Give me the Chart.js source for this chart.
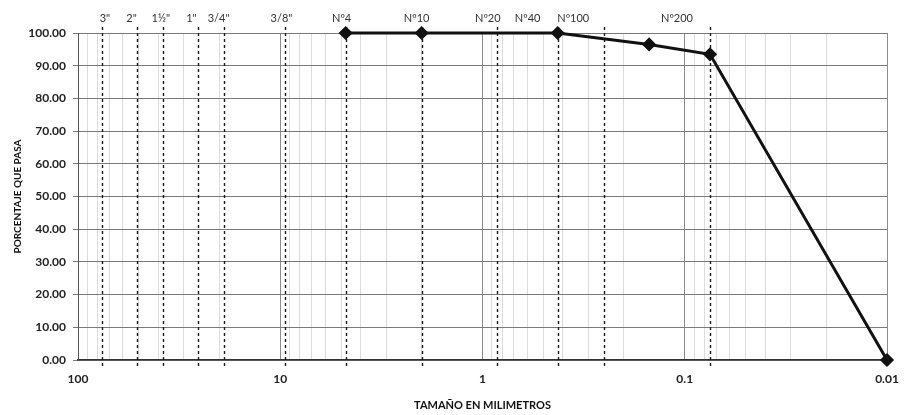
<!DOCTYPE html>
<html>
<head>
<meta charset="utf-8">
<script src="https://cdn.jsdelivr.net/npm/chart.js@4.4.1/dist/chart.umd.min.js"></script>
<style>
  html, body { margin: 0; padding: 0; background: #ffffff; }
  #wrap { width: 904px; height: 415px; position: relative; }
</style>
</head>
<body>
<div id="wrap"><canvas id="curve"></canvas></div>
<script>
// Grain size curve: sieve opening (mm) vs. percent passing
const sieveSizesMm   = [4.75, 2.0, 0.425, 0.15, 0.075, 0.01];
const percentPassing = [100, 100, 100, 96.5, 93.5, 0];

// Reference sieves marked with dashed verticals
const sieveNames      = ['3"', '2"', '1½"', '1"', '3/4"', '3/8"', 'Nº4', 'Nº10', 'Nº20', 'Nº40', 'Nº100', 'Nº200'];
const sieveOpeningsMm = [76.2, 50.8, 38.1, 25.4, 19.05, 9.525, 4.75, 2.0, 0.85, 0.425, 0.25, 0.075];

// Axis ticks
const xDecades = [100, 10, 1, 0.1, 0.01];
const yTicks   = [0, 10, 20, 30, 40, 50, 60, 70, 80, 90, 100];

const FONT = 'Lato, "Liberation Sans", sans-serif';
const decadeSet = new Set(xDecades);

// every 1..9 subdivision of each decade, for the log grid
function logGridValues() {
  const vals = [];
  const lo = Math.min(...xDecades), hi = Math.max(...xDecades);
  for (let d = lo; d < hi * 0.999; d *= 10) {
    for (let m = 1; m <= 9; m++) vals.push(+(m * d).toPrecision(6));
  }
  vals.push(hi);
  return vals;
}

// dashed sieve verticals and their names above the plot
const sievePlugin = {
  id: 'sieveMarks',
  beforeDatasetsDraw(chart, args, opts) {
    const { ctx, chartArea: a, scales: { x } } = chart;
    ctx.save();
    ctx.strokeStyle = '#1a1a1a';
    ctx.lineWidth = 1.4;
    ctx.setLineDash([3, 3]);
    sieveOpeningsMm.forEach(v => {
      const px = Math.round(x.getPixelForValue(v)) + 0.5;
      ctx.beginPath();
      ctx.moveTo(px, a.top - 6);
      ctx.lineTo(px, a.bottom + 8);
      ctx.stroke();
    });
    ctx.restore();
  },
  afterDraw(chart, args, opts) {
    const { ctx, chartArea: a, scales: { x } } = chart;
    ctx.save();
    ctx.fillStyle = '#333';
    ctx.font = '11px ' + FONT;
    ctx.textAlign = 'center';
    ctx.textBaseline = 'middle';
    sieveNames.forEach((name, i) => {
      const px = x.getPixelForValue(sieveOpeningsMm[i]) + (opts.shift[i] || 0);
      ctx.fillText(name, px, a.top - 15);
    });
    ctx.restore();
  }
};

new Chart(document.getElementById('curve'), {
  type: 'line',
  data: {
    datasets: [{
      data: sieveSizesMm.map((s, i) => ({ x: s, y: percentPassing[i] })),
      borderColor: '#111',
      backgroundColor: '#111',
      borderWidth: 3,
      pointStyle: 'rectRot',
      pointRadius: 5,
      pointHoverRadius: 5,
      tension: 0,
      clip: false
    }]
  },
  options: {
    responsive: true,
    maintainAspectRatio: false,
    animation: false,
    events: [],
    layout: { padding: { top: 33, right: 17, left: 0, bottom: 0 } },
    plugins: {
      legend: { display: false },
      tooltip: { enabled: false },
      sieveMarks: { shift: [3, -6, -2, -7, -5, -3, -4, -5, -9, -30, -31, -33] }
    },
    scales: {
      x: {
        type: 'logarithmic',
        reverse: true,
        min: Math.min(...xDecades),
        max: Math.max(...xDecades),
        afterBuildTicks(scale) {
          scale.ticks = logGridValues().map(v => ({ value: v, major: decadeSet.has(v) }));
        },
        afterFit(scale) { scale.height = 55; },
        ticks: {
          autoSkip: false,
          maxRotation: 0,
          padding: 12,
          color: '#222',
          font: { family: FONT, size: 12, weight: 'bold' },
          callback: v => decadeSet.has(v) ? String(v) : ''
        },
        grid: {
          drawTicks: false,
          color: c => (c.tick && decadeSet.has(c.tick.value)) ? '#8c8c8c' : '#dcdcdc',
          lineWidth: 1
        },
        border: { color: '#333', width: 1.5 },
        title: {
          display: true,
          text: 'TAMAÑO EN MILIMETROS',
          color: '#111',
          font: { family: FONT, size: 11, weight: 'bold' },
          padding: { top: 0, bottom: 3 }
        }
      },
      y: {
        type: 'linear',
        min: Math.min(...yTicks),
        max: Math.max(...yTicks),
        afterBuildTicks(scale) {
          scale.ticks = yTicks.map(v => ({ value: v }));
        },
        afterFit(scale) { scale.width = 78; },
        ticks: {
          padding: 7,
          color: '#222',
          font: { family: FONT, size: 12, weight: 'bold' },
          callback: v => Number(v).toFixed(2)
        },
        grid: {
          color: '#7a7a7a',
          lineWidth: 1,
          tickLength: 5
        },
        border: { color: '#555', width: 1 },
        title: {
          display: true,
          text: 'PORCENTAJE QUE PASA',
          color: '#111',
          font: { family: FONT, size: 10, weight: 'bold' },
          padding: { top: 12, bottom: 0 }
        }
      }
    }
  },
  plugins: [sievePlugin]
});
</script>
</body>
</html>
